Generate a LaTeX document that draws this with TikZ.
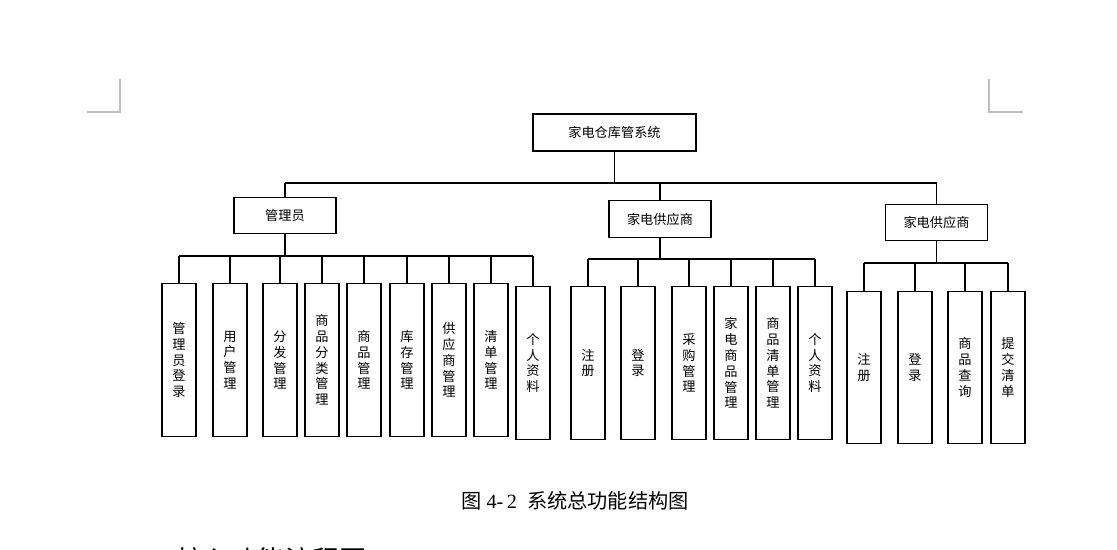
\documentclass[tikz,border=0pt]{standalone}
\usepackage{fontspec}
\setmainfont{Liberation Serif}
\newfontfamily\cjk{Noto Sans CJK SC}
\usetikzlibrary{positioning}

\definecolor{markgray}{RGB}{190,190,190}

\tikzset{
    conn/.style={line width=0.6pt},
    rootbox/.style={draw, line width=0.6pt, minimum width=3.26cm, minimum height=0.74cm, font=\cjk\fontsize{7.5}{9}\selectfont},
    groupbox/.style={draw, line width=0.6pt, minimum width=2.04cm, minimum height=0.73cm, font=\cjk\fontsize{7.5}{9}\selectfont},
    leafbox/.style={draw, line width=0.6pt, minimum width=0.68cm, minimum height=3.06cm, inner sep=0pt, anchor=north, align=center, font=\cjk\fontsize{7.5}{9}\selectfont}
}

\begin{document}
\begin{tikzpicture}[x=0.02cm, y=-0.02cm]
    \useasboundingbox (0,0) rectangle (1117,549);

    % page corner marks
    \draw[markgray, line width=0.6pt] (87,112) -- (120,112) -- (120,79);
    \draw[markgray, line width=0.6pt] (1023,112) -- (989,112) -- (989,79);

    % root and the three groups
    \node[rootbox] (sys) at (614.5,132.5) {家电仓库管系统};
    \node[groupbox] (adm) at (285,215.5) {管理员};
    \node[groupbox] (sup) at (660,219) {家电供应商};
    \node[groupbox] (sup2) at (936.5,222.5) {家电供应商};

    \coordinate (bus) at (614.5,183);
    \draw[conn] (sys.south) -- (bus);
    \draw[conn] (bus -| adm.north) -- (bus -| sup2.north);
    \foreach \g in {adm,sup,sup2}
        \draw[conn] (bus -| \g.north) -- (\g.north);

    % leaves of 管理员
    \foreach \n/\x/\y/\t in {a1/179/283/{管\\理\\员\\登\\录},
                            a2/230/283/{用\\户\\管\\理},
                            a3/280/283/{分\\发\\管\\理},
                            a4/322/283/{商\\品\\分\\类\\管\\理},
                            a5/364/283/{商\\品\\管\\理},
                            a6/407/283/{库\\存\\管\\理},
                            a7/449/283/{供\\应\\商\\管\\理},
                            a8/491/283/{清\\单\\管\\理},
                            a9/533/286/{个\\人\\资\\料}}
        \node[leafbox] (\n) at (\x,\y) {\t};
    \coordinate (admbus) at (285,256);
    \draw[conn] (adm.south) -- (admbus);
    \draw[conn] (admbus -| a1.north) -- (admbus -| a9.north);
    \foreach \n in {a1,a2,a3,a4,a5,a6,a7,a8,a9}
        \draw[conn] (admbus -| \n.north) -- (\n.north);

    % leaves of the middle 家电供应商
    \foreach \n/\x/\t in {b1/588/{注\\册},
                         b2/638/{登\\录},
                         b3/689/{采\\购\\管\\理},
                         b4/731/{家\\电\\商\\品\\管\\理},
                         b5/773/{商\\品\\清\\单\\管\\理},
                         b6/815/{个\\人\\资\\料}}
        \node[leafbox] (\n) at (\x,286) {\t};
    \coordinate (supbus) at (660,259);
    \draw[conn] (sup.south) -- (supbus);
    \draw[conn] (supbus -| b1.north) -- (supbus -| b6.north);
    \foreach \n in {b1,b2,b3,b4,b5,b6}
        \draw[conn] (supbus -| \n.north) -- (\n.north);

    % leaves of the right 家电供应商
    \foreach \n/\x/\t in {c1/864/{注\\册},
                         c2/915/{登\\录},
                         c3/965/{商\\品\\查\\询},
                         c4/1008/{提\\交\\清\\单}}
        \node[leafbox, minimum height=3.04cm] (\n) at (\x,291) {\t};
    \coordinate (sup2bus) at (936.5,263);
    \draw[conn] (sup2.south) -- (sup2bus);
    \draw[conn] (sup2bus -| c1.north) -- (sup2bus -| c4.north);
    \foreach \n in {c1,c2,c3,c4}
        \draw[conn] (sup2bus -| \n.north) -- (\n.north);

    % caption
    \node[font=\fontsize{11.5}{13}\selectfont] (cap) at (575,501)
        {{\cjk 图} 4-\,2\enspace{\cjk 系统总功能结构图}};

    % next heading, cut by the page edge
    \begin{scope}
        \clip (0,0) rectangle (1117,549);
        \node[anchor=west, font=\cjk\fontsize{15.5}{18}\selectfont] (next) at (170,560) {核心功能流程图};
    \end{scope}
\end{tikzpicture}
\end{document}
